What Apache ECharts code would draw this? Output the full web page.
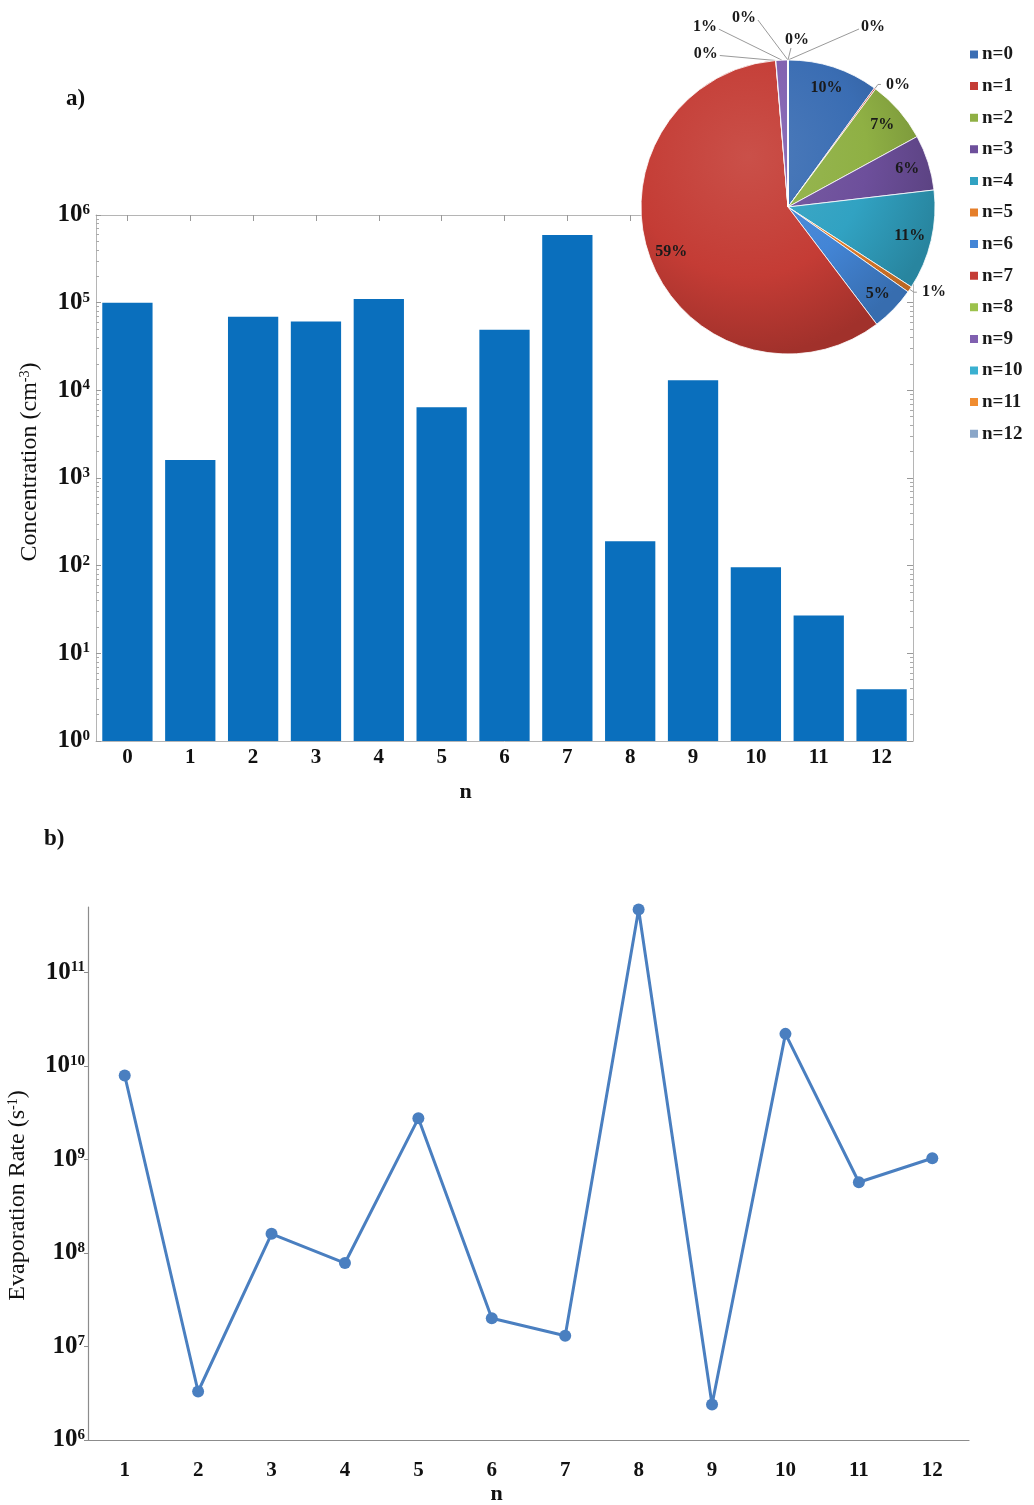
<!DOCTYPE html>
<html>
<head>
<meta charset="utf-8">
<script src="https://cdn.jsdelivr.net/npm/echarts@6/dist/echarts.min.js"></script>
<style>
  html, body { margin: 0; padding: 0; background: #ffffff; }
  #main { width: 1034px; height: 1505px; }
</style>
</head>
<body>
<div id="main"></div>
<script>
// Cluster sizes and their concentrations (panel a)
const clusterSizes = ['0', '1', '2', '3', '4', '5', '6', '7', '8', '9', '10', '11', '12'];
const concentration = [1.0e5, 1.6e3, 6.9e4, 6.1e4, 1.1e5, 6.4e3, 4.9e4, 5.9e5, 1.9e2, 1.3e4, 96, 27, 3.9];

// Cluster sizes and evaporation rates (panel b)
const evapSizes = ['1', '2', '3', '4', '5', '6', '7', '8', '9', '10', '11', '12'];
const evaporationRate = [7.9e9, 3.3e6, 1.6e8, 7.8e7, 2.75e9, 2.0e7, 1.3e7, 4.7e11, 2.4e6, 2.2e10, 5.7e8, 1.03e9];

// Pie legend entries
const legendNames = clusterSizes.map(n => 'n=' + n);

const SERIF = '"Liberation Serif", "Times New Roman", serif';
const sliceColors = ['#3a6db3', '#c43c35', '#8fb044', '#6d4f9b', '#31a2c2', '#e57e2a',
                     '#4385d6', '#c43c35', '#9cc24c', '#8060b0', '#3ab0d0', '#f08c30', '#8aa6c8'];

function shade(hex, f) {
  const n = parseInt(hex.slice(1), 16);
  let r = (n >> 16) & 255, g = (n >> 8) & 255, b = n & 255;
  const t = f < 0 ? 0 : 255, p = Math.abs(f);
  r = Math.round((t - r) * p + r); g = Math.round((t - g) * p + g); b = Math.round((t - b) * p + b);
  return 'rgb(' + r + ',' + g + ',' + b + ')';
}

const PIE_CX = 788, PIE_CY = 207, PIE_R = 147;
// soft bevel: lighter towards the upper left, a thin darker rim
function sliceFill(c) {
  return {
    type: 'radial', x: PIE_CX - 40, y: PIE_CY - 50, r: PIE_R * 1.35, global: true,
    colorStops: [
      { offset: 0, color: shade(c, 0.1) },
      { offset: 0.6, color: c },
      { offset: 1, color: shade(c, -0.18) }
    ]
  };
}

const total = concentration.reduce((a, b) => a + b, 0);
const share = concentration.map(v => v / total * 100);
const pctText = p => Math.round(p.percent) + '%';

const pieData = concentration.map((v, i) => ({
  name: legendNames[i],
  value: v,
  itemStyle: { color: sliceFill(sliceColors[i]) },
  label: { show: share[i] < 3 },
  labelLine: { show: share[i] < 3 }
}));
const pieLabelData = concentration.map((v, i) => ({
  name: legendNames[i],
  value: v,
  label: { show: share[i] >= 3 }
}));

// tiny slices crowded at 12 o'clock get their labels fanned out over the top
const topFan = [[-70, -7], [-77, -33], [-44, -42], [9, -20], [85, -33]];
function pieLabelLayout(p) {
  if (p.seriesIndex !== 2) return {};
  const i = p.dataIndex;
  if (i < 8 || !p.labelLinePoints) return {};
  const k = i - 8;
  const p0 = p.labelLinePoints[0];
  const cx = p0[0] + topFan[k][0], cy = p0[1] + topFan[k][1];
  const w = p.labelRect.width, h = p.labelRect.height;
  let end;
  if (topFan[k][0] < -20) end = [cx + w / 2 + 2, cy + 2];
  else if (topFan[k][0] > 20) end = [cx - w / 2 - 2, cy + 2];
  else end = [cx - 6, cy + h / 2];
  return {
    x: cx - w / 2, y: cy - h / 2, align: 'left', verticalAlign: 'top',
    labelLinePoints: [p0, end, end]
  };
}

function powLabel(v) {
  const l = Math.log10(v), e = Math.round(l);
  if (Math.abs(l - e) > 1e-6) return '';
  return '{b|10}{s|' + e + '}';
}
const powRich = {
  b: { fontFamily: SERIF, fontSize: 25, fontWeight: 'bold', color: '#111' },
  s: { fontFamily: SERIF, fontSize: 15, fontWeight: 'bold', color: '#111', verticalAlign: 'bottom', padding: [0, 0, 10, 0] }
};
const nameRich = {
  sup: { fontFamily: SERIF, fontSize: 14, color: '#111', verticalAlign: 'bottom', padding: [0, 0, 10, 0] }
};

const frameColor = '#b5b5b5';

const option = {
  backgroundColor: '#ffffff',
  animation: false,
  graphic: [
    { type: 'text', left: 66, top: 88, style: { text: 'a)', fontFamily: SERIF, fontSize: 23, fontWeight: 'bold', fill: '#111' } },
    { type: 'text', left: 44, top: 828, style: { text: 'b)', fontFamily: SERIF, fontSize: 23, fontWeight: 'bold', fill: '#111' } }
  ],
  legend: {
    orient: 'vertical',
    left: 963, top: 40,
    itemWidth: 10, itemHeight: 10, itemGap: 12.6,
    icon: 'rect',
    textStyle: { fontFamily: SERIF, fontSize: 19, fontWeight: 'bold', color: '#1a1a1a', padding: [0, 0, 0, -2] },
    data: legendNames.map((n, i) => ({ name: n, itemStyle: { color: sliceColors[i] } }))
  },
  grid: [
    { left: 96, right: 121, top: 215, height: 526, containLabel: false, outerBoundsMode: 'none' },
    { left: 88, right: 65, top: 907, height: 533, containLabel: false, outerBoundsMode: 'none' }
  ],
  xAxis: [
    {
      type: 'category', gridIndex: 0, data: clusterSizes,
      name: 'n', nameLocation: 'middle', nameGap: 40,
      nameTextStyle: { fontFamily: SERIF, fontSize: 22, fontWeight: 'bold', color: '#111', padding: [0, 78, 0, 0] },
      axisLine: { lineStyle: { color: frameColor, width: 1 } },
      axisTick: { show: false },
      axisLabel: { fontFamily: SERIF, fontSize: 21, fontWeight: 'bold', color: '#111', margin: 6 }
    },
    {
      type: 'category', gridIndex: 0, data: clusterSizes, position: 'top',
      axisLine: { lineStyle: { color: frameColor, width: 1 } },
      axisTick: { show: true, inside: true, alignWithLabel: true, length: 6, lineStyle: { color: '#999' } },
      axisLabel: { show: false }
    },
    {
      type: 'category', gridIndex: 1, data: evapSizes,
      name: 'n', nameLocation: 'middle', nameGap: 43,
      nameTextStyle: { fontFamily: SERIF, fontSize: 22, fontWeight: 'bold', color: '#111', padding: [0, 64, 0, 0] },
      axisLine: { lineStyle: { color: '#8c8c8c', width: 1.2 } },
      axisTick: { show: false },
      axisLabel: { fontFamily: SERIF, fontSize: 21, fontWeight: 'bold', color: '#111', margin: 20 }
    }
  ],
  yAxis: [
    {
      type: 'log', gridIndex: 0, min: 1, max: 1e6, logBase: 10,
      name: 'Concentration (cm{sup|-3})', nameLocation: 'middle', nameGap: 54, nameRotate: 90,
      nameTextStyle: { fontFamily: SERIF, fontSize: 24, color: '#111', rich: nameRich, padding: [0, 0, 0, 32] },
      axisLine: { show: true, lineStyle: { color: frameColor, width: 1 } },
      axisTick: { show: true, inside: true, length: 5, lineStyle: { color: '#999' } },
      minorTick: { show: true, splitNumber: 9, length: 3, lineStyle: { color: '#aaa' } },
      splitLine: { show: false },
      axisLabel: { formatter: powLabel, rich: powRich, margin: 6 }
    },
    {
      type: 'log', gridIndex: 0, min: 1, max: 1e6, logBase: 10, position: 'right',
      axisLine: { show: true, lineStyle: { color: frameColor, width: 1 } },
      axisTick: { show: true, inside: true, length: 6, lineStyle: { color: '#999' } },
      minorTick: { show: true, splitNumber: 9, length: 3, lineStyle: { color: '#aaa' } },
      splitLine: { show: false },
      axisLabel: { show: false }
    },
    {
      type: 'log', gridIndex: 1, min: 1e6, max: 5e11, logBase: 10,
      name: 'Evaporation Rate (s{sup|-1})', nameLocation: 'middle', nameGap: 58, nameRotate: 90,
      nameTextStyle: { fontFamily: SERIF, fontSize: 24, color: '#111', rich: nameRich, padding: [0, 44, 0, 0] },
      axisLine: { show: true, lineStyle: { color: '#8c8c8c', width: 1.2 } },
      axisTick: { show: true, length: 4, lineStyle: { color: '#8c8c8c' } },
      splitLine: { show: false },
      axisLabel: { formatter: powLabel, rich: powRich, margin: 3, showMaxLabel: false }
    }
  ],
  series: [
    {
      type: 'bar', name: 'Concentration', xAxisIndex: 0, yAxisIndex: 0,
      data: concentration, barCategoryGap: '20%',
      itemStyle: { color: '#0a6fbd' }
    },
    {
      type: 'line', name: 'Evaporation rate', xAxisIndex: 2, yAxisIndex: 2,
      data: evaporationRate,
      symbol: 'circle', symbolSize: 12,
      lineStyle: { color: '#4a7fc0', width: 3 },
      itemStyle: { color: '#4a7fc0' }
    },
    {
      type: 'pie', name: 'share', center: [PIE_CX, PIE_CY], radius: PIE_R,
      startAngle: 90, clockwise: true, avoidLabelOverlap: false,
      itemStyle: { borderColor: '#ffffff', borderWidth: 0.8 },
      label: {
        position: 'outside', formatter: pctText,
        fontFamily: SERIF, fontSize: 16, fontWeight: 'bold', color: '#1a1a1a'
      },
      labelLine: { length: 5, length2: 3, lineStyle: { color: '#9a9a9a', width: 1 } },
      labelLayout: pieLabelLayout,
      emphasis: { disabled: true },
      data: pieData
    },
    {
      type: 'pie', name: 'share labels', center: [PIE_CX, PIE_CY], radius: [0, 2 * PIE_R - 50],
      startAngle: 90, clockwise: true, silent: true,
      itemStyle: { color: 'rgba(0,0,0,0)' },
      label: {
        position: 'inside', formatter: pctText,
        fontFamily: SERIF, fontSize: 16, fontWeight: 'bold', color: '#1a1a1a'
      },
      labelLine: { show: false },
      emphasis: { disabled: true },
      data: pieLabelData
    }
  ]
};

const chart = echarts.init(document.getElementById('main'), null, { renderer: 'canvas' });
chart.setOption(option);
</script>
</body>
</html>
